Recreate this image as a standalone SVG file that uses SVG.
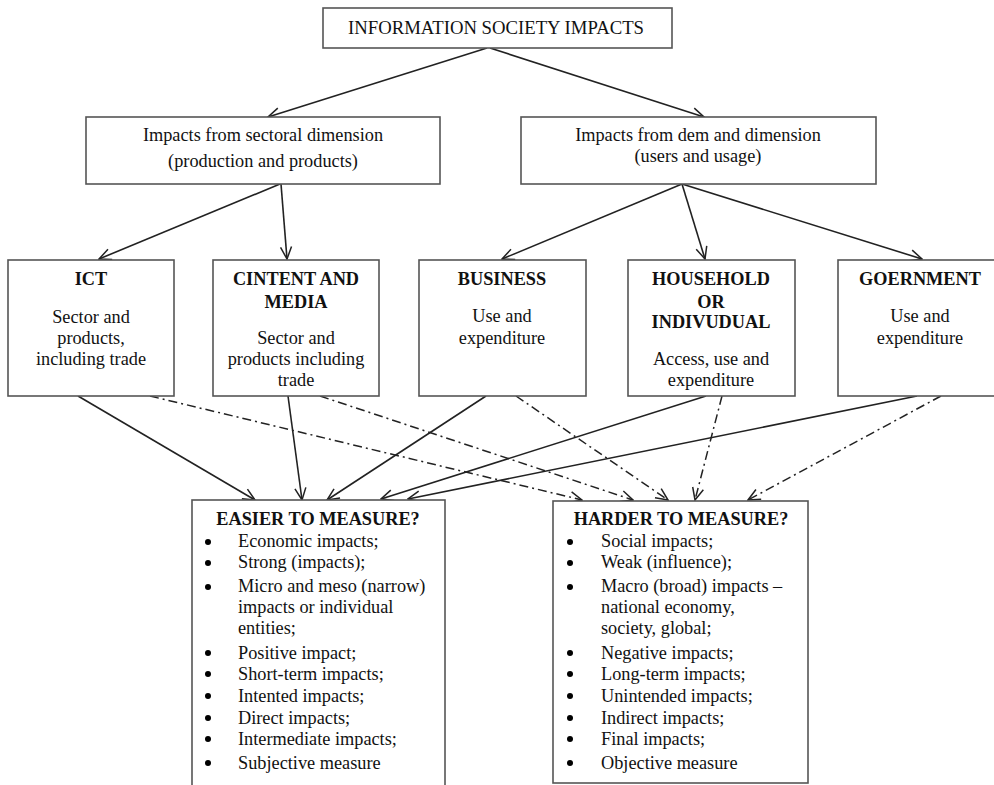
<svg xmlns="http://www.w3.org/2000/svg" width="994" height="785" viewBox="0 0 994 785">
<defs>
<marker id="arr" markerUnits="userSpaceOnUse" markerWidth="14" markerHeight="14" viewBox="0 0 14 14" refX="13" refY="7" orient="auto">
<path d="M1,1.5 L13,7 L1,12.5" fill="none" stroke="#222" stroke-width="1.5"/>
</marker>
</defs>
<style>
.box{fill:#fff;stroke:#555;stroke-width:1.6}
.t{font-family:"Liberation Serif","Times New Roman",serif;font-size:18.3px;fill:#111}
.c{text-anchor:middle}
.b{font-weight:bold}
.sol{fill:none;stroke:#222;stroke-width:1.6;marker-end:url(#arr)}
.dsh{fill:none;stroke:#222;stroke-width:1.5;stroke-dasharray:9 4 2 4;marker-end:url(#arr)}
.dot{fill:#000}
</style>
<rect width="994" height="785" fill="#fff"/>

<g id="connectors">
<line class="sol" x1="487" y1="48" x2="268" y2="117"/>
<line class="sol" x1="490" y1="48" x2="704" y2="117"/>
<line class="sol" x1="280" y1="184" x2="99" y2="259"/>
<line class="sol" x1="281" y1="184" x2="287" y2="259"/>
<line class="sol" x1="682" y1="184" x2="502" y2="259"/>
<line class="sol" x1="682" y1="184" x2="705" y2="259"/>
<line class="sol" x1="682" y1="184" x2="922" y2="259"/>
<line class="sol" x1="78" y1="396" x2="255" y2="500"/>
<line class="sol" x1="288" y1="396" x2="302" y2="500"/>
<line class="sol" x1="486" y1="396" x2="327" y2="500"/>
<line class="sol" x1="706" y1="396" x2="381" y2="499"/>
<line class="sol" x1="917" y1="396" x2="408" y2="499"/>
<line class="dsh" x1="150" y1="396" x2="582" y2="500"/>
<line class="dsh" x1="320" y1="396" x2="633" y2="500"/>
<line class="dsh" x1="516" y1="396" x2="668" y2="500"/>
<line class="dsh" x1="722" y1="396" x2="695" y2="500"/>
<line class="dsh" x1="941" y1="396" x2="748" y2="500"/>
</g>

<g id="top">
<rect class="box" x="323" y="8" width="349" height="40"/>
<text class="t c" x="496" y="34" textLength="296" lengthAdjust="spacingAndGlyphs">INFORMATION SOCIETY IMPACTS</text>
</g>

<g id="sectoral">
<rect class="box" x="86" y="117" width="354" height="67"/>
<text class="t c" x="263" y="141">Impacts from sectoral dimension</text>
<text class="t c" x="263" y="167">(production and products)</text>
</g>

<g id="demand">
<rect class="box" x="521" y="117" width="355" height="67"/>
<text class="t c" x="698" y="141">Impacts from  dem and dimension</text>
<text class="t c" x="698" y="162">(users and usage)</text>
</g>

<g id="ict">
<rect class="box" x="8" y="260" width="166" height="136"/>
<text class="t c b" x="91" y="285">ICT</text>
<text class="t c" x="91" y="323">Sector and</text>
<text class="t c" x="91" y="344">products,</text>
<text class="t c" x="91" y="365">including trade</text>
</g>

<g id="content">
<rect class="box" x="213" y="260" width="166" height="136"/>
<text class="t c b" x="296" y="285">CINTENT AND</text>
<text class="t c b" x="296" y="308">MEDIA</text>
<text class="t c" x="296" y="344">Sector and</text>
<text class="t c" x="296" y="365">products including</text>
<text class="t c" x="296" y="386">trade</text>
</g>

<g id="business">
<rect class="box" x="419" y="260" width="167" height="136"/>
<text class="t c b" x="502" y="285">BUSINESS</text>
<text class="t c" x="502" y="322">Use and</text>
<text class="t c" x="502" y="344">expenditure</text>
</g>

<g id="household">
<rect class="box" x="628" y="260" width="167" height="136"/>
<text class="t c b" x="711" y="285">HOUSEHOLD</text>
<text class="t c b" x="711" y="308">OR</text>
<text class="t c b" x="711" y="328">INDIVUDUAL</text>
<text class="t c" x="711" y="365">Access, use and</text>
<text class="t c" x="711" y="386">expenditure</text>
</g>

<g id="government">
<rect class="box" x="838" y="260" width="164" height="136"/>
<text class="t c b" x="920" y="285">GOERNMENT</text>
<text class="t c" x="920" y="322">Use and</text>
<text class="t c" x="920" y="344">expenditure</text>
</g>

<g id="easier">
<rect class="box" x="192" y="500" width="253" height="300"/>
<text class="t c b" x="318" y="525">EASIER TO MEASURE?</text>
<circle class="dot" cx="208" cy="542" r="3"/>
<text class="t" x="238" y="547">Economic impacts;</text>
<circle class="dot" cx="208" cy="563" r="3"/>
<text class="t" x="238" y="568">Strong (impacts);</text>
<circle class="dot" cx="208" cy="587" r="3"/>
<text class="t" x="238" y="592">Micro and meso (narrow)</text>
<text class="t" x="238" y="613">impacts or individual</text>
<text class="t" x="238" y="634">entities;</text>
<circle class="dot" cx="208" cy="653" r="3"/>
<text class="t" x="238" y="659">Positive impact;</text>
<circle class="dot" cx="208" cy="674" r="3"/>
<text class="t" x="238" y="680">Short-term impacts;</text>
<circle class="dot" cx="208" cy="696" r="3"/>
<text class="t" x="238" y="702">Intented impacts;</text>
<circle class="dot" cx="208" cy="718" r="3"/>
<text class="t" x="238" y="724">Direct impacts;</text>
<circle class="dot" cx="208" cy="739" r="3"/>
<text class="t" x="238" y="745">Intermediate impacts;</text>
<circle class="dot" cx="208" cy="763" r="3"/>
<text class="t" x="238" y="769">Subjective measure</text>
</g>

<g id="harder">
<rect class="box" x="553" y="501" width="255" height="282"/>
<text class="t c b" x="681" y="525">HARDER TO MEASURE?</text>
<circle class="dot" cx="570" cy="542" r="3"/>
<text class="t" x="601" y="547">Social impacts;</text>
<circle class="dot" cx="570" cy="563" r="3"/>
<text class="t" x="601" y="568">Weak (influence);</text>
<circle class="dot" cx="570" cy="587" r="3"/>
<text class="t" x="601" y="592">Macro (broad) impacts –</text>
<text class="t" x="601" y="613">national economy,</text>
<text class="t" x="601" y="634">society, global;</text>
<circle class="dot" cx="570" cy="653" r="3"/>
<text class="t" x="601" y="659">Negative impacts;</text>
<circle class="dot" cx="570" cy="674" r="3"/>
<text class="t" x="601" y="680">Long-term impacts;</text>
<circle class="dot" cx="570" cy="696" r="3"/>
<text class="t" x="601" y="702">Unintended impacts;</text>
<circle class="dot" cx="570" cy="718" r="3"/>
<text class="t" x="601" y="724">Indirect impacts;</text>
<circle class="dot" cx="570" cy="739" r="3"/>
<text class="t" x="601" y="745">Final impacts;</text>
<circle class="dot" cx="570" cy="763" r="3"/>
<text class="t" x="601" y="769">Objective measure</text>
</g>
</svg>
